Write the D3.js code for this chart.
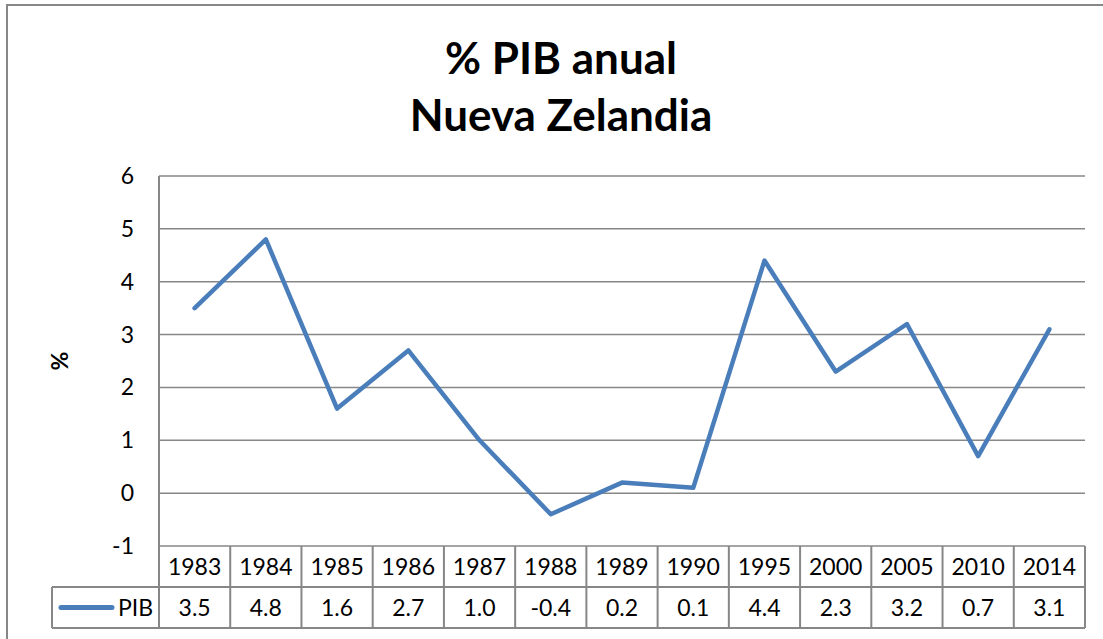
<!DOCTYPE html>
<html>
<head>
<meta charset="utf-8">
<script src="https://cdn.jsdelivr.net/npm/d3@7"></script>
<style>
  body { margin: 0; background: #fff; }
  svg text { font-family: Lato, "Open Sans", sans-serif; fill: #000; }
</style>
</head>
<body>
<svg id="chart" width="1103" height="639"></svg>
<script>
var years = ["1983", "1984", "1985", "1986", "1987", "1988", "1989", "1990", "1995", "2000", "2005", "2010", "2014"];
var pib = [3.5, 4.8, 1.6, 2.7, 1.0, -0.4, 0.2, 0.1, 4.4, 2.3, 3.2, 0.7, 3.1];
var yTicks = [-1, 0, 1, 2, 3, 4, 5, 6];
var seriesName = "PIB";
var titleLines = ["% PIB anual", "Nueva Zelandia"];

var svg = d3.select("#chart");
var gridColor = "#878787";
var lineColor = "#4a7ebb";

var plotL = 159, plotR = 1085, plotT = 176, plotB = 546;
var rowH = 41;

var x = d3.scaleBand().domain(years).range([plotL, plotR]);
var y = d3.scaleLinear().domain([-1, 6]).range([plotB, plotT]);

// outer frame
svg.append("rect")
  .attr("x", 7).attr("y", 5)
  .attr("width", 1120).attr("height", 660)
  .attr("fill", "none").attr("stroke", gridColor).attr("stroke-width", 2);

// title
svg.selectAll(".title")
  .data(titleLines).enter()
  .append("text")
  .attr("x", 561)
  .attr("y", function (d, i) { return 74 + i * 57; })
  .attr("text-anchor", "middle")
  .attr("font-size", "44px")
  .attr("font-weight", "bold")
  .text(function (d) { return d; });

// horizontal gridlines
svg.selectAll(".grid")
  .data(yTicks).enter()
  .append("line")
  .attr("x1", plotL).attr("x2", plotR)
  .attr("y1", function (d) { return y(d); })
  .attr("y2", function (d) { return y(d); })
  .attr("stroke", gridColor).attr("stroke-width", 1.5);

// y axis line
svg.append("line")
  .attr("x1", plotL).attr("x2", plotL)
  .attr("y1", plotT).attr("y2", plotB + 2 * rowH)
  .attr("stroke", gridColor).attr("stroke-width", 2);

// y tick labels
svg.selectAll(".ytick")
  .data(yTicks).enter()
  .append("text")
  .attr("x", 134)
  .attr("y", function (d) { return y(d); })
  .attr("dy", "0.35em")
  .attr("text-anchor", "end")
  .attr("font-size", "23px")
  .text(function (d) { return String(d); });

// y axis title
svg.append("text")
  .attr("transform", "translate(68," + y(2.5) + ") rotate(-90)")
  .attr("text-anchor", "middle")
  .attr("font-size", "23px")
  .attr("font-weight", "bold")
  .text("%");

// data table
var tbl = svg.append("g");
// vertical cell borders
tbl.selectAll(".vline")
  .data(years.concat(["end"])).enter()
  .append("line")
  .attr("x1", function (d) { return d === "end" ? plotR : x(d); })
  .attr("x2", function (d) { return d === "end" ? plotR : x(d); })
  .attr("y1", plotB).attr("y2", plotB + 2 * rowH)
  .attr("stroke", gridColor).attr("stroke-width", 2);
// horizontal cell borders
tbl.append("line")
  .attr("x1", 52).attr("x2", plotR)
  .attr("y1", plotB + rowH).attr("y2", plotB + rowH)
  .attr("stroke", gridColor).attr("stroke-width", 2);
tbl.append("line")
  .attr("x1", 52).attr("x2", plotR)
  .attr("y1", plotB + 2 * rowH).attr("y2", plotB + 2 * rowH)
  .attr("stroke", gridColor).attr("stroke-width", 2);
tbl.append("line")
  .attr("x1", 52).attr("x2", 52)
  .attr("y1", plotB + rowH).attr("y2", plotB + 2 * rowH)
  .attr("stroke", gridColor).attr("stroke-width", 2);

tbl.selectAll(".yr")
  .data(years).enter()
  .append("text")
  .attr("x", function (d) { return x(d) + x.bandwidth() / 2; })
  .attr("y", plotB + rowH / 2)
  .attr("dy", "0.35em")
  .attr("text-anchor", "middle")
  .attr("font-size", "23px")
  .text(function (d) { return d; });

tbl.selectAll(".val")
  .data(pib).enter()
  .append("text")
  .attr("x", function (d, i) { return x(years[i]) + x.bandwidth() / 2; })
  .attr("y", plotB + rowH * 1.5)
  .attr("dy", "0.35em")
  .attr("text-anchor", "middle")
  .attr("font-size", "23px")
  .text(function (d) { return d.toFixed(1); });

// legend key in table
tbl.append("line")
  .attr("x1", 61).attr("x2", 112)
  .attr("y1", plotB + rowH * 1.5).attr("y2", plotB + rowH * 1.5)
  .attr("stroke", lineColor).attr("stroke-width", 5)
  .attr("stroke-linecap", "round");
tbl.append("text")
  .attr("x", 153)
  .attr("y", plotB + rowH * 1.5)
  .attr("dy", "0.35em")
  .attr("text-anchor", "end")
  .attr("font-size", "23px")
  .text(seriesName);

// series line
var line = d3.line()
  .x(function (d, i) { return x(years[i]) + x.bandwidth() / 2; })
  .y(function (d) { return y(d); });

svg.append("path")
  .datum(pib)
  .attr("d", line)
  .attr("fill", "none")
  .attr("stroke", lineColor)
  .attr("stroke-width", 4.5)
  .attr("stroke-linejoin", "round")
  .attr("stroke-linecap", "round");
</script>
</body>
</html>
